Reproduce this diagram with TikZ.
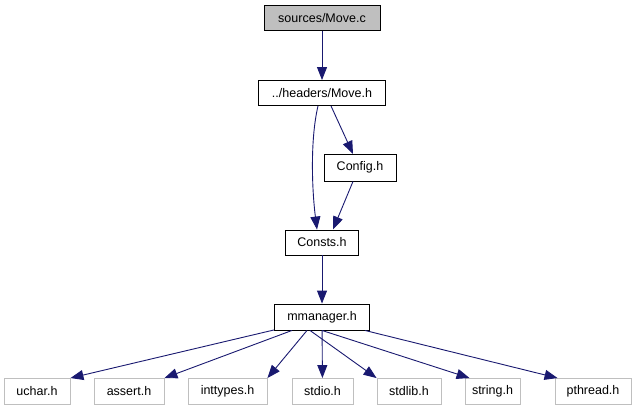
\documentclass[tikz,border=0pt]{standalone}
\usepackage{fontspec}
\setmainfont{Liberation Sans}
\usetikzlibrary{arrows.meta}
\definecolor{edgeblue}{RGB}{25,25,112}
\definecolor{boxgray}{RGB}{191,191,191}
\begin{document}
\begin{tikzpicture}[x=1pt,y=-1pt,
  every node/.style={font=\fontsize{12.5}{14}\selectfont, inner sep=0pt, anchor=center},
  hbox/.style={draw=black, line width=0.9pt, fill=white, minimum height=25pt},
  sysbox/.style={draw=boxgray, line width=0.9pt, fill=white, minimum height=26pt},
  dep/.style={draw=edgeblue, line width=0.9pt, -{Triangle[length=13pt,width=10pt]}}]
\useasboundingbox (0,0) rectangle (636,411);
\node[hbox, fill=boxgray, minimum width=116pt] (movec) at (322,18) {sources/Move.c};
\node[hbox, minimum width=127pt] (moveh) at (322,93) {../headers/Move.h};
\node[hbox, minimum width=72pt, minimum height=27pt] (config) at (360,167.5) {Config.h};
\node[hbox, minimum width=73pt] (consts) at (322,242.5) {Consts.h};
\node[hbox, minimum width=95pt, minimum height=26pt] (mman) at (322,317) {mmanager.h};
\node[sysbox, minimum width=66pt] (uchar) at (37,391.5) {uchar.h};
\node[sysbox, minimum width=70pt] (assert) at (129,391.5) {assert.h};
\node[sysbox, minimum width=79pt] (inttypes) at (227.5,391.5) {inttypes.h};
\node[sysbox, minimum width=61pt] (stdio) at (322.5,391.5) {stdio.h};
\node[sysbox, minimum width=64pt] (stdlib) at (409,391.5) {stdlib.h};
\node[sysbox, minimum width=55pt] (string) at (492.5,391.5) {string.h};
\node[sysbox, minimum width=76pt] (pthread) at (593,391.5) {pthread.h};
\draw[dep] (movec) -- (moveh);
\draw[dep] (moveh.south) ++(-4,0) coordinate (a1) .. controls (310,140) and (312,190) .. (consts.north -| 317,0);
\draw[dep] (moveh.south) ++(9,0) coordinate (a2) -- (353,154);
\draw[dep] (config.south) ++(-7,0) -- (333,229.5);
\draw[dep] (consts) -- (mman);
\draw[dep] (mman.south west) ++(0,-0.5) -- (uchar.north east);
\draw[dep] (mman.south) ++(-30,0) -- (assert.north east);
\draw[dep] (mman.south) ++(-15,0) -- (inttypes.north east);
\draw[dep] (mman) -- (stdio);
\draw[dep] (mman.south) ++(-12,0) -- (stdlib.north west);
\draw[dep] (mman.south) ++(0,0) -- ([xshift=5pt]string.north west);
\draw[dep] (mman.south east) ++(-5,0) -- ([xshift=3pt]pthread.north west);
\end{tikzpicture}
\end{document}
